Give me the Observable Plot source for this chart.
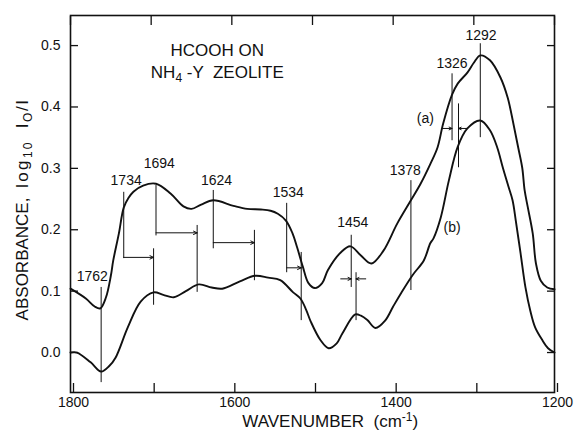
<!DOCTYPE html>
<html>
<head>
<meta charset="utf-8">
<script src="https://cdn.jsdelivr.net/npm/d3@7"></script>
<script src="https://cdn.jsdelivr.net/npm/@observablehq/plot@0.6"></script>
<style>
  body { margin: 0; background: #fff; }
  #chart svg { display: block; }
</style>
</head>
<body>
<div id="chart"></div>
<script>
// ---- Spectrum (a) ----
const wavenumberA = [1800, 1781, 1770, 1763, 1756, 1750, 1747, 1740, 1734, 1728, 1722, 1710, 1694, 1676, 1660, 1650, 1638, 1623, 1598, 1581, 1564, 1552, 1543, 1533, 1525, 1519, 1512, 1505, 1497, 1488, 1481, 1465, 1453, 1440, 1427, 1412, 1395, 1378, 1366, 1354, 1345, 1338, 1327, 1320, 1308, 1300, 1292, 1280, 1267, 1258, 1251, 1245, 1240, 1237, 1233, 1227, 1223, 1217, 1209, 1200];
const absorbanceA = [0.104, 0.088, 0.075, 0.072, 0.090, 0.125, 0.150, 0.194, 0.236, 0.252, 0.262, 0.272, 0.275, 0.259, 0.238, 0.234, 0.241, 0.248, 0.239, 0.234, 0.233, 0.231, 0.226, 0.215, 0.195, 0.171, 0.140, 0.113, 0.105, 0.113, 0.134, 0.163, 0.173, 0.158, 0.145, 0.166, 0.210, 0.248, 0.275, 0.307, 0.334, 0.373, 0.420, 0.438, 0.456, 0.472, 0.484, 0.476, 0.448, 0.415, 0.373, 0.334, 0.301, 0.264, 0.236, 0.194, 0.145, 0.117, 0.106, 0.103];

// ---- Spectrum (b) ----
const wavenumberB = [1800, 1792, 1775, 1762, 1752, 1744, 1729, 1713, 1697, 1685, 1672, 1657, 1641, 1625, 1612, 1590, 1571, 1555, 1540, 1524, 1515, 1508, 1502, 1490, 1480, 1470, 1463, 1447, 1440, 1432, 1422, 1410, 1400, 1391, 1376, 1362, 1354, 1350, 1341, 1331, 1320, 1308, 1292, 1280, 1271, 1264, 1257, 1252, 1248, 1242, 1236, 1230, 1224, 1215, 1208, 1200];
const absorbanceB = [0.000, 0.000, -0.016, -0.031, -0.022, -0.008, 0.041, 0.083, 0.098, 0.094, 0.090, 0.100, 0.111, 0.106, 0.104, 0.116, 0.125, 0.122, 0.118, 0.098, 0.088, 0.070, 0.050, 0.020, 0.007, 0.015, 0.031, 0.062, 0.060, 0.053, 0.040, 0.052, 0.075, 0.095, 0.126, 0.150, 0.178, 0.186, 0.220, 0.280, 0.335, 0.365, 0.378, 0.362, 0.334, 0.301, 0.270, 0.248, 0.215, 0.161, 0.106, 0.068, 0.041, 0.020, 0.007, 0.000];

// ---- Band marker lines on spectrum (a) ----
const bandA = [1762, 1734, 1694, 1623, 1532, 1452, 1378, 1327, 1292];
const bandATop = [0.106, 0.261, 0.272, 0.264, 0.243, 0.191, 0.280, 0.454, 0.503];
const bandABottom = [-0.049, 0.153, 0.190, 0.169, 0.130, 0.106, 0.101, 0.345, 0.350];

// ---- Shifted band marker lines on spectrum (b) ----
const bandB = [1697, 1643, 1572, 1514, 1446, 1319];
const bandBTop = [0.169, 0.207, 0.199, 0.163, 0.130, 0.405];
const bandBBottom = [0.077, 0.098, 0.117, 0.052, 0.052, 0.301];

// ---- Shift arrows ----
const arrowFrom = [1734, 1694, 1623, 1532, 1465, 1434, 1339, 1308];
const arrowTo   = [1697, 1643, 1572, 1514, 1452, 1446, 1327, 1319];
const arrowLevel = [0.155, 0.195, 0.179, 0.138, 0.120, 0.120, 0.365, 0.365];

// ---- Labels ----
const labelText = ["1762", "1734", "1694", "1624", "1534", "1454", "1378", "1326", "1292", "(a)", "(b)"];
const labelX = [1773, 1731, 1690, 1619, 1530, 1450, 1385, 1327, 1291, 1360, 1327];
const labelY = [0.124, 0.280, 0.308, 0.280, 0.261, 0.212, 0.296, 0.471, 0.516, 0.381, 0.204];

const titleLines = ["HCOOH ON", "NH4-Y ZEOLITE"];
const titleX = [1618, 1618];
const titleY = [0.492, 0.456];

// ---- Axes ----
const xTicks = [1800, 1700, 1600, 1500, 1400, 1300, 1200];
const xTickLabels = ["1800", "", "1600", "", "1400", "", "1200"];
const yTicks = [0, 0.1, 0.2, 0.3, 0.4, 0.5];
const yTickLabels = ["0.0", "0.1", "0.2", "0.3", "0.4", "0.5"];
const xTitle = "WAVENUMBER (cm-1)";
const yTitle = "ABSORBANCE, log10 I0/I";

// ---- Build tables ----
const specA = wavenumberA.map((w, i) => ({w, a: absorbanceA[i]}));
const specB = wavenumberB.map((w, i) => ({w, a: absorbanceB[i]}));
const linesA = bandA.map((x, i) => ({x, y1: bandABottom[i], y2: bandATop[i]}));
const linesB = bandB.map((x, i) => ({x, y1: bandBBottom[i], y2: bandBTop[i]}));
const arrows = arrowFrom.map((x1, i) => ({x1, x2: arrowTo[i], y: arrowLevel[i]}));
const labels = labelText.map((t, i) => ({t, x: labelX[i], y: labelY[i]}));
const titles = titleLines.map((t, i) => ({t, x: titleX[i], y: titleY[i]}));

const ink = "#111";
const chart = Plot.plot({
  width: 574,
  height: 440,
  marginLeft: 70,
  marginRight: 20,
  marginTop: 15,
  marginBottom: 48,
  x: {domain: [1800, 1200]},
  y: {domain: [-0.0651, 0.549]},
  style: {fontFamily: "'Liberation Sans', Arial, sans-serif", fontSize: "14px", color: ink, background: "#fff"},
  marks: [
    Plot.axisX({ticks: xTicks, tickSize: -9, tickPadding: 14, dx: 3, strokeWidth: 1.3,
      tickFormat: d => xTickLabels[xTicks.indexOf(d)], label: null}),
    Plot.axisX({anchor: "top", ticks: xTicks, tickSize: -9, strokeWidth: 1.3, tickFormat: () => "", label: null}),
    Plot.axisY({ticks: yTicks, tickSize: -8, tickPadding: 18, strokeWidth: 1.3,
      tickFormat: d => yTickLabels[yTicks.indexOf(d)], label: null}),
    Plot.axisY({anchor: "right", ticks: yTicks, tickSize: -8, strokeWidth: 1.3, tickFormat: () => "", label: null}),
    Plot.frame({stroke: ink, strokeWidth: 1.6}),
    Plot.ruleX(linesA, {x: "x", y1: "y1", y2: "y2", stroke: ink, strokeWidth: 1}),
    Plot.ruleX(linesB, {x: "x", y1: "y1", y2: "y2", stroke: ink, strokeWidth: 1}),
    Plot.arrow(arrows, {x1: "x1", x2: "x2", y1: "y", y2: "y", stroke: ink, strokeWidth: 1, headLength: 6, headAngle: 50}),
    Plot.line(specA, {x: "w", y: "a", curve: "catmull-rom", stroke: ink, strokeWidth: 1.9}),
    Plot.line(specB, {x: "w", y: "a", curve: "catmull-rom", stroke: ink, strokeWidth: 1.9}),
    Plot.text(labels, {x: "x", y: "y", text: "t", fontSize: 14, fill: ink}),
    Plot.text(titles, {x: "x", y: "y", text: "t", fontSize: 17, fill: ink}),
    Plot.text([xTitle], {x: () => 1478, frameAnchor: "bottom", dy: 34, text: d => d, fontSize: 17, fill: ink}),
    Plot.text([yTitle], {y: () => 0.233, frameAnchor: "left", dx: -48, rotate: -90, textAnchor: "middle", text: d => d, fontSize: 17, fill: ink})
  ]
});
document.getElementById("chart").appendChild(chart);

// Sub/superscripts as real text via tspans
function rich(content, parts) {
  d3.select(chart).selectAll("text").filter(function() { return this.textContent === content; })
    .each(function() {
      const t = d3.select(this);
      t.text(null).style("white-space", "pre");
      let shift = 0;
      for (const [str, kind, spacing] of parts) {
        const target = kind === "sub" ? 4 : kind === "sup" ? -6 : 0;
        const sp = t.append("tspan").text(str).attr("dy", target - shift);
        if (kind) sp.attr("font-size", "12px");
        if (spacing) sp.attr("letter-spacing", spacing);
        shift = target;
      }
    });
}
rich("NH4-Y ZEOLITE", [["NH", null], ["4", "sub"], [" -Y  ZEOLITE", null]]);
rich(xTitle, [["WAVENUMBER  (cm", null], ["-1", "sup"], [")", null]]);
rich(yTitle, [["ABSORBANCE,  ", null], ["log", null, 2.5], ["10", "sub", 2], ["  I", null, 1.5], ["O", "sub", 1.5], ["/I", null, 1.5]]);
</script>
</body>
</html>
